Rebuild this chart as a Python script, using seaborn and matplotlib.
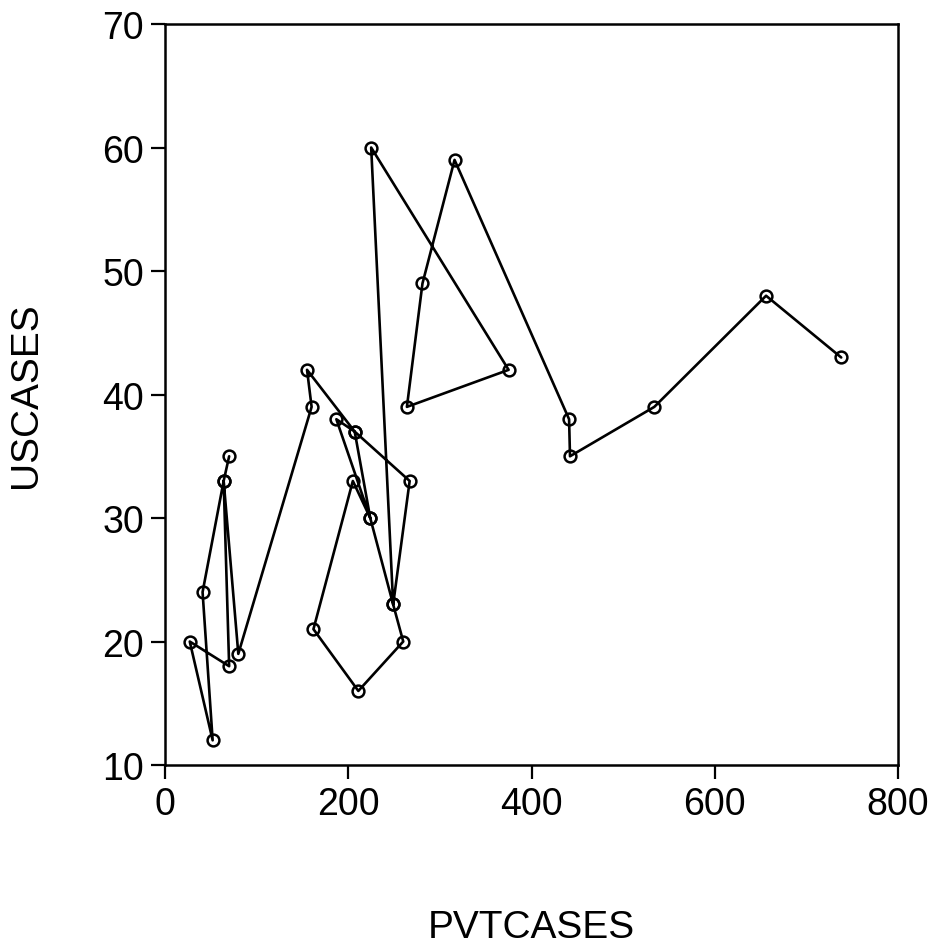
import pandas as pd
import matplotlib
matplotlib.use("Agg")
import matplotlib.pyplot as plt
import seaborn as sns

# observations in the order the line visits them
pvtcases = [70, 64, 70, 27, 52, 41, 64, 80, 160, 155, 207, 187, 224, 207, 267,
            249, 224, 205, 162, 211, 260, 249, 225, 375, 264, 281, 316, 441,
            442, 534, 656, 738]
uscases = [35, 33, 18, 20, 12, 24, 33, 19, 39, 42, 37, 38, 30, 37, 33,
           23, 30, 33, 21, 16, 20, 23, 60, 42, 39, 49, 59, 38,
           35, 39, 48, 43]

xticks = [0, 200, 400, 600, 800]
yticks = [10, 20, 30, 40, 50, 60, 70]

data = pd.DataFrame({"PVTCASES": pvtcases, "USCASES": uscases})

sns.set_style("ticks")
plt.rcParams['font.family'] = ['Liberation Sans', 'DejaVu Sans']

fig = plt.figure(figsize=(9.44, 9.45), dpi=100)
ax = fig.add_axes([0.1748, 0.1894, 0.7765, 0.7841])

sns.lineplot(
    x="PVTCASES",
    y="USCASES",
    data=data,
    sort=False,
    estimator=None,
    color="black",
    linewidth=1.9,
    marker="o",
    markersize=8.5,
    markerfacecolor="none",
    markeredgecolor="black",
    markeredgewidth=1.8,
    ax=ax
)

ax.set_xlim(0, 800)
ax.set_ylim(10, 70)
ax.set_xticks(xticks)
ax.set_yticks(yticks)
ax.tick_params(axis="both", labelsize=27, length=10, width=1.6, direction="out",
               top=False, right=False, pad=5, colors="black")
for s in ax.spines.values():
    s.set_linewidth(1.8)
    s.set_color("black")

ax.set_xlabel("PVTCASES", fontsize=28, labelpad=63, color="black")
ax.set_ylabel("USCASES", fontsize=28, labelpad=42, color="black")

fig.savefig("out.png", dpi=100)
